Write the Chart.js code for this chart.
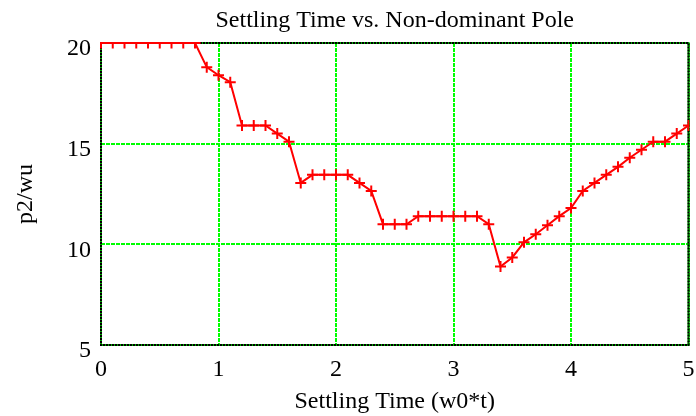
<!DOCTYPE html>
<html>
<head>
<meta charset="utf-8">
<title>Settling Time vs. Non-dominant Pole</title>
<script src="https://cdn.jsdelivr.net/npm/chart.js@4/dist/chart.umd.min.js"></script>
<style>
  html, body { margin: 0; padding: 0; background: #fff; }
  #wrap { width: 696px; height: 416px; }
</style>
</head>
<body>
<div id="wrap"><canvas id="grafico" width="696" height="416"></canvas></div>
<script>
// tempo de acomodação (w0*t) e polo não dominante correspondente (p2/wu)
var tempos = [0, 0.1, 0.2, 0.3, 0.4, 0.5, 0.6, 0.7, 0.8, 0.9,
              1.0, 1.1, 1.2, 1.3, 1.4, 1.5, 1.6, 1.7, 1.8, 1.9,
              2.0, 2.1, 2.2, 2.3, 2.4, 2.5, 2.6, 2.7, 2.8, 2.9,
              3.0, 3.1, 3.2, 3.3, 3.4, 3.5, 3.6, 3.7, 3.8, 3.9,
              4.0, 4.1, 4.2, 4.3, 4.4, 4.5, 4.6, 4.7, 4.8, 4.9, 5.0];
var polos = [20, 20, 20, 20, 20, 20, 20, 20, 20, 18.8,
             18.4, 18.05, 15.9, 15.9, 15.9, 15.5, 15.1, 13.05, 13.45, 13.45,
             13.45, 13.45, 13.05, 12.65, 11.0, 11.0, 11.0, 11.4, 11.4, 11.4,
             11.4, 11.4, 11.4, 11.0, 8.9, 9.35, 10.1, 10.5, 10.95, 11.4,
             11.8, 12.65, 13.05, 13.45, 13.85, 14.3, 14.7, 15.1, 15.1, 15.5, 15.9];
var xTicks = [0, 1, 2, 3, 4, 5];
var yTicks = [5, 10, 15, 20];

var titulo = 'Settling Time vs. Non-dominant Pole';
var fonte = 'Liberation Serif, Times New Roman, serif';
var verde = '#00ff00';

var pontos = tempos.map(function(t, i) { return {x: t, y: polos[i]}; });

// moldura pontilhada preta e título centrado sobre a área do gráfico
var moldura = {
    id: 'moldura',
    beforeDatasetsDraw: function(chart) {
        var a = chart.chartArea, ctx = chart.ctx;
        ctx.save();
        ctx.lineWidth = 2;
        ctx.strokeStyle = '#00aa00';
        ctx.strokeRect(a.left, a.top, a.right - a.left, a.bottom - a.top);
        ctx.strokeStyle = '#000';
        ctx.setLineDash([2, 1]);
        ctx.strokeRect(a.left, a.top, a.right - a.left, a.bottom - a.top);
        ctx.restore();
    },
    afterDraw: function(chart) {
        var a = chart.chartArea, ctx = chart.ctx;
        ctx.save();
        ctx.fillStyle = '#000';
        ctx.font = '24px ' + fonte;
        ctx.textAlign = 'center';
        ctx.textBaseline = 'middle';
        ctx.fillText(titulo, (a.left + a.right) / 2, 21);
        ctx.restore();
    }
};

var ctx = document.getElementById('grafico').getContext('2d');
var chart = new Chart(ctx, {
    type: 'line',
    data: {
        datasets: [{
            data: pontos,
            borderColor: '#ff0000',
            backgroundColor: '#ff0000',
            borderWidth: 2,
            tension: 0,
            pointStyle: 'cross',
            pointRadius: 5.5,
            pointBorderWidth: 2,
            pointBorderColor: '#ff0000',
            clip: 1
        }]
    },
    options: {
        responsive: false,
        animation: false,
        events: [],
        layout: { padding: { top: 43, right: 5, left: 0, bottom: 0 } },
        plugins: {
            legend: { display: false },
            title: { display: false },
            tooltip: { enabled: false }
        },
        scales: {
            x: {
                type: 'linear',
                min: 0,
                max: 5,
                afterBuildTicks: function(s) { s.ticks = xTicks.map(function(v) { return {value: v}; }); },
                afterFit: function(s) { s.height = 71; s.paddingLeft = 0; s.paddingRight = 0; },
                grid: { color: verde, lineWidth: 2, drawTicks: false, tickLength: 0 },
                // no v4 o dash da borda vale para as linhas de grade
                border: { display: false, dash: [4, 1] },
                ticks: {
                    color: '#000',
                    padding: 10,
                    maxRotation: 0,
                    autoSkip: false,
                    font: { family: fonte, size: 24 }
                },
                title: {
                    display: true,
                    text: 'Settling Time (w0*t)',
                    color: '#000',
                    padding: { top: 0, bottom: 0 },
                    font: { family: fonte, size: 24 }
                }
            },
            y: {
                type: 'linear',
                min: 5,
                max: 20,
                afterBuildTicks: function(s) { s.ticks = yTicks.map(function(v) { return {value: v}; }); },
                afterFit: function(s) { s.width = 101; s.paddingTop = 0; s.paddingBottom = 0; },
                grid: { color: verde, lineWidth: 2, drawTicks: false, tickLength: 0 },
                border: { display: false, dash: [4, 1] },
                ticks: {
                    color: '#000',
                    padding: 10,
                    labelOffset: 6,
                    font: { family: fonte, size: 24 }
                },
                title: {
                    display: true,
                    text: 'p2/wu',
                    color: '#000',
                    padding: { top: 11, bottom: 0 },
                    font: { family: fonte, size: 24 }
                }
            }
        }
    },
    plugins: [moldura]
});
</script>
</body>
</html>
